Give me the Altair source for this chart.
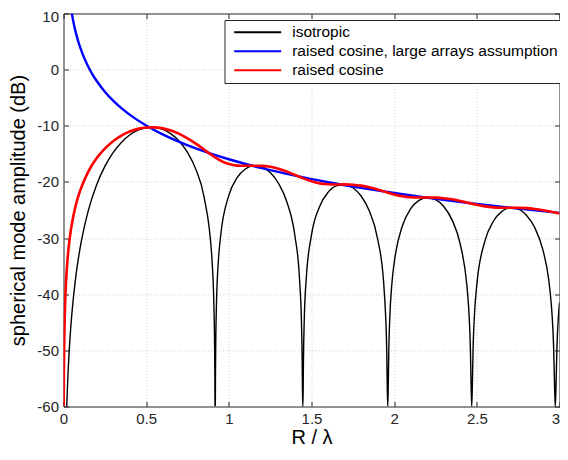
import altair as alt
import pandas as pd

# ---------------- data ----------------
series_names = ["isotropic", "raised cosine, large arrays assumption", "raised cosine"]
series_colors = ["#000000", "#0000ff", "#ff0000"]

x_ticks = [0, 0.5, 1, 1.5, 2, 2.5, 3]
y_ticks = [-60, -50, -40, -30, -20, -10, 0, 10]

iso_x = [0.0195, 0.025, 0.03, 0.04, 0.05, 0.075, 0.1,
         0.15, 0.2, 0.25, 0.3, 0.35, 0.4, 0.45, 0.5, 0.55, 0.6, 0.65, 0.7, 0.75, 0.8, 0.85,
         0.8973, 0.9, 0.9093, 0.9133, 0.9153, 0.9163, 0.9173, 0.9183, 0.9193, 0.9213, 0.9253, 0.9373, 0.95,
         1.0, 1.05, 1.1, 1.15, 1.2, 1.25, 1.3, 1.35, 1.4,
         1.4275, 1.4395, 1.4435, 1.4455, 1.4475, 1.4495, 1.45, 1.4515, 1.4555, 1.4675,
         1.5, 1.55, 1.6, 1.65, 1.7, 1.75, 1.8, 1.85, 1.9,
         1.9362, 1.9492, 1.95, 1.9552, 1.9582, 1.9612, 1.9642, 1.9672, 1.9732, 1.9862,
         2.0, 2.05, 2.1, 2.15, 2.2, 2.25, 2.3, 2.35, 2.4,
         2.4392, 2.45, 2.4532, 2.4612, 2.4652, 2.4692, 2.4732, 2.4772, 2.4852,
         2.5, 2.55, 2.6, 2.65, 2.7, 2.75, 2.8, 2.85, 2.9,
         2.9345, 2.95, 2.9545, 2.9645, 2.9695, 2.9745, 2.9795, 2.9845, 2.9945, 3.0]
iso_y = [-60, -55.68, -52.51, -47.51, -43.70, -36.73, -31.84,
         -25.11, -20.55, -17.24, -14.78, -12.96, -11.65, -10.79, -10.34, -10.29, -10.64, -11.43, -12.74, -14.73, -17.72, -22.65,
         -33.45, -34.75, -41.52, -47.58, -53.64, -59.66, -60, -59.66, -53.65, -47.66, -41.67, -33.83, -29.72,
         -22.39, -19.24, -17.69, -17.12, -17.34, -18.34, -20.24, -23.49, -29.67,
         -37.23, -45.26, -51.31, -57.35, -60, -57.35, -55.5, -51.36, -45.36, -37.47,
         -29.43, -24.32, -21.86, -20.70, -20.46, -21.04, -22.51, -25.19, -30.13,
         -37.87, -44.30, -44.87, -50.37, -56.40, -60, -56.40, -50.37, -44.41, -38.09,
         -34.43, -27.80, -24.77, -23.28, -22.78, -23.14, -24.38, -26.76, -31.12,
         -38.26, -42.16, -43.77, -49.84, -55.87, -60, -55.87, -49.84, -43.88,
         -38.30, -30.41, -27.00, -25.29, -24.63, -24.84, -25.93, -28.12, -32.16,
         -37.35, -41.66, -43.43, -49.51, -55.53, -60, -55.54, -49.52, -43.53, -41.47]

large_x = [0.05, 0.06, 0.07, 0.08, 0.09, 0.1, 0.12, 0.15, 0.175, 0.2, 0.25, 0.3, 0.35, 0.4, 0.5,
           0.6, 0.7, 0.8, 0.9, 1.0, 1.2, 1.4, 1.6, 1.8, 2.0, 2.25, 2.5, 2.75, 3.0]
large_y = [10.06, 8.47, 7.13, 5.97, 4.95, 4.04, 2.45, 0.52, -0.83, -1.98, -3.92, -5.51, -6.85, -8.01, -9.94,
           -11.53, -12.87, -14.03, -15.05, -15.96, -17.55, -18.89, -20.05, -21.07, -21.98, -23.01, -23.92, -24.75, -25.51]

rc_x = [0.0012, 0.0015, 0.002, 0.003, 0.005, 0.0075, 0.01, 0.015, 0.02, 0.03, 0.04, 0.05, 0.075, 0.1,
        0.15, 0.2, 0.25, 0.3, 0.35, 0.4, 0.45, 0.5, 0.55, 0.6, 0.65, 0.7, 0.75, 0.8, 0.85, 0.9, 0.95,
        1.0, 1.05, 1.1, 1.15, 1.2, 1.25, 1.3, 1.35, 1.4, 1.45, 1.5, 1.55, 1.6, 1.65, 1.7, 1.75, 1.8, 1.85, 1.9, 1.95,
        2.0, 2.05, 2.1, 2.15, 2.2, 2.25, 2.3, 2.35, 2.4, 2.45, 2.5, 2.55, 2.6, 2.65, 2.7, 2.75, 2.8, 2.85, 2.9, 2.95, 3.0]
rc_y = [-60, -58.02, -55.52, -51.99, -47.56, -44.04, -41.54, -38.02, -35.52, -32.00, -29.51, -27.57, -24.07, -21.60,
        -18.17, -15.80, -14.06, -12.74, -11.75, -11.03, -10.55, -10.31, -10.28, -10.46, -10.85, -11.44, -12.23, -13.17, -14.23, -15.28, -16.19,
        -16.81, -17.09, -17.13, -17.11, -17.14, -17.31, -17.65, -18.14, -18.75, -19.37, -19.90, -20.26, -20.42, -20.45, -20.44, -20.50, -20.66, -20.95, -21.35, -21.80,
        -22.22, -22.55, -22.73, -22.78, -22.78, -22.80, -22.90, -23.09, -23.39, -23.73, -24.08, -24.36, -24.53, -24.59, -24.60, -24.61, -24.67, -24.82, -25.04, -25.32, -25.62]

# ---------------- layout / style ----------------
W, H = 496, 393
FONT = "Liberation Sans"
AX = "#262626"


def frame(xs, ys, name):
    return pd.DataFrame({"x": xs, "y": ys, "series": name})


xscale = alt.Scale(domain=[0, 3], nice=False, zero=False)
yscale = alt.Scale(domain=[-60, 10], nice=False, zero=False)

legend = alt.Legend(
    title=None, orient="none", legendX=161, legendY=6.5,
    symbolType="stroke", symbolSize=2209, symbolStrokeWidth=2,
    clipHeight=18.7, rowPadding=0, padding=3,
    symbolOffset=5.7, labelOffset=10,
    labelFont=FONT, labelFontSize=15.5, labelColor="black", labelLimit=600,
    strokeColor=AX, fillColor="white", cornerRadius=0,
)
color = alt.Color("series:N", scale=alt.Scale(domain=series_names, range=series_colors), legend=legend)

grid_common = dict(grid=True, gridColor="#cfcfcf", gridDash=[1, 2], gridWidth=1)

main_x = alt.Axis(values=x_ticks, labelExpr="datum.value + ''", title="R / λ",
                  titleFont=FONT, titleFontSize=20, titleFontWeight="normal", titleColor="black",
                  labelFont=FONT, labelFontSize=15, labelColor=AX, labelPadding=5, titlePadding=1,
                  labelAlign={"expr": "datum.value == 3 ? 'right' : 'center'"},
                  gridOpacity={"expr": "(datum.value == 0 || datum.value == 3) ? 0 : 1"},
                  labelFlush=False, labelOverlap=False, ticks=False, domain=False, **grid_common)
main_y = alt.Axis(values=y_ticks, labelExpr="datum.value + ''", title="spherical mode amplitude (dB)",
                  titleFont=FONT, titleFontSize=20, titleFontWeight="normal", titleColor="black",
                  labelFont=FONT, labelFontSize=15, labelColor=AX, labelPadding=5, titlePadding=8,
                  labelOffset={"expr": "datum.value == 10 ? 3 : 0"},
                  gridOpacity={"expr": "(datum.value == 10 || datum.value == -60) ? 0 : 1"},
                  labelFlush=False, labelOverlap=False, ticks=False, domain=False, **grid_common)


def tick_axis(vals, orient, offset):
    return alt.Axis(values=vals, orient=orient, offset=offset, labels=False, ticks=True, tickSize=5,
                    tickColor=AX, tickWidth=1, domain=False, grid=False, title=None)


black = alt.Chart(frame(iso_x, iso_y, series_names[0])).mark_line(
    strokeWidth=1.4, interpolate="monotone", clip=True
).encode(
    x=alt.X("x:Q", scale=xscale, axis=main_x),
    y=alt.Y("y:Q", scale=yscale, axis=main_y),
    color=color,
)

blue = alt.Chart(frame(large_x, large_y, series_names[1])).mark_line(
    strokeWidth=2.4, interpolate="monotone", clip=True
).encode(
    x=alt.X("x:Q", scale=xscale, axis=tick_axis(x_ticks, "top", -H)),
    y=alt.Y("y:Q", scale=yscale, axis=tick_axis(y_ticks, "right", -W)),
    color=color,
)

red = alt.Chart(frame(rc_x, rc_y, series_names[2])).mark_line(
    strokeWidth=2.6, interpolate="monotone", clip=True
).encode(
    x=alt.X("x:Q", scale=xscale, axis=tick_axis(x_ticks, "bottom", -H)),
    y=alt.Y("y:Q", scale=yscale, axis=tick_axis(y_ticks, "left", -W)),
    color=color,
)

chart = alt.layer(black, blue, red).resolve_axis(x="independent", y="independent").properties(
    width=W, height=H,
    padding={"left": 55.5, "top": 5.5, "right": 0.5, "bottom": 40},
    autosize=alt.AutoSizeParams(type="none"),
    background="white",
).configure_view(stroke=AX, strokeWidth=1)

chart.save("out.html", embed_options={"renderer": "svg", "actions": False})
